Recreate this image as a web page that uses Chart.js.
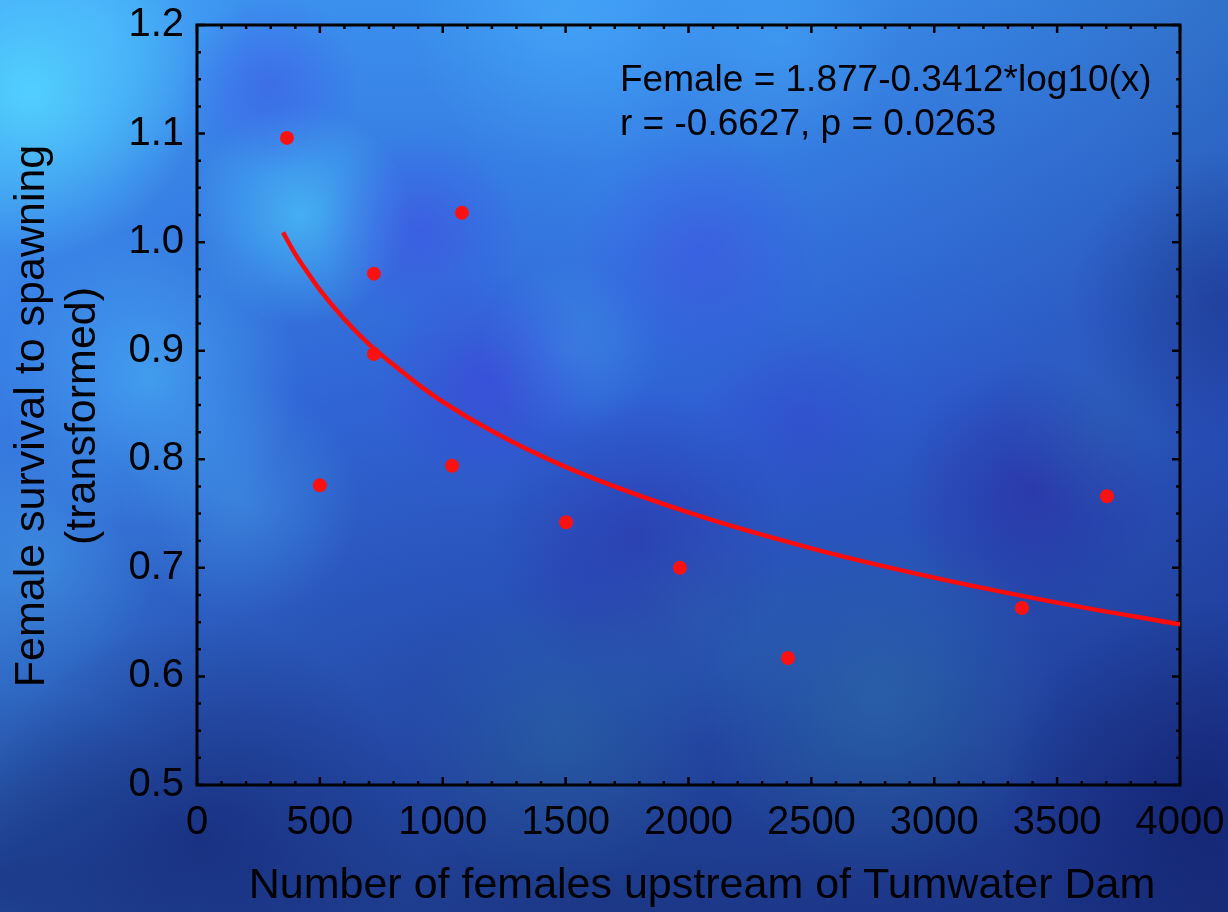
<!DOCTYPE html>
<html>
<head>
<meta charset="utf-8">
<script src="https://cdn.jsdelivr.net/npm/chart.js@4.4.1/dist/chart.umd.min.js"></script>
<style>
  html, body { margin: 0; padding: 0; background: #1c3580; }
  #wrap { width: 1228px; height: 912px; }
</style>
</head>
<body>
<div id="wrap"><canvas id="chart" width="1228" height="912"></canvas></div>
<script>
// observed points
const femalesUpstream = [366, 500, 720, 720, 1038, 1078, 1502, 1965, 2405, 3357, 3703];
const survivalTransformed = [1.096, 0.776, 0.971, 0.897, 0.794, 1.027, 0.742, 0.700, 0.617, 0.663, 0.766];

// fitted curve
const fitX = [350, 400, 450, 500, 600, 700, 800, 900, 1000, 1200, 1500, 2000, 2500, 3000, 3500, 4000];
const fitY = [1.009, 0.989, 0.972, 0.956, 0.929, 0.906, 0.887, 0.869, 0.853, 0.826, 0.793, 0.751, 0.718, 0.691, 0.668, 0.648];

const xTicks = [0, 500, 1000, 1500, 2000, 2500, 3000, 3500, 4000];
const yTicks = [0.5, 0.6, 0.7, 0.8, 0.9, 1.0, 1.1, 1.2];

const annotationLines = ['Female = 1.877-0.3412*log10(x)', 'r = -0.6627, p = 0.0263'];
const xTitle = 'Number of females upstream of Tumwater Dam';
const yTitle = ['Female survival to spawning', '(transformed)'];

const FONT = '"Liberation Sans", Arial, sans-serif';

// soft colour patches for the mottled backdrop: x, y, radius, rgb, alpha
const patches = [
    [30, 90, 170, '85,215,255', 0.9],
    [100, 30, 150, '80,200,255', 0.45],
    [560, 20, 150, '80,190,255', 0.35],
    [780, 40, 120, '80,190,255', 0.25],
    [300, 215, 110, '80,210,255', 0.6],
    [150, 380, 150, '80,200,255', 0.5],
    [240, 500, 120, '80,190,250', 0.35],
    [40, 560, 120, '80,190,250', 0.3],
    [570, 350, 90, '80,190,250', 0.25],
    [270, 85, 90, '70,60,230', 0.35],
    [420, 230, 100, '70,60,230', 0.4],
    [490, 380, 110, '70,50,220', 0.4],
    [700, 250, 120, '70,60,230', 0.35],
    [640, 540, 150, '45,30,160', 0.4],
    [800, 420, 100, '60,50,200', 0.25],
    [1030, 490, 130, '45,30,150', 0.45],
    [880, 700, 180, '50,140,170', 0.35],
    [560, 740, 150, '50,130,170', 0.3],
    [700, 620, 120, '50,130,170', 0.2],
    [1100, 420, 100, '50,130,170', 0.2],
    [200, 840, 220, '15,25,100', 0.55],
    [1200, 800, 200, '15,25,100', 0.55],
    [1220, 300, 150, '15,25,100', 0.35],
    [0, 880, 200, '15,25,100', 0.5]
];


function blob(ctx, x, y, r, rgb, a) {
    const g = ctx.createRadialGradient(x, y, 0, x, y, r);
    g.addColorStop(0, `rgba(${rgb},${a})`);
    g.addColorStop(1, `rgba(${rgb},0)`);
    ctx.fillStyle = g;
    ctx.fillRect(x - r, y - r, 2 * r, 2 * r);
}


// drop the label overhang chart.js reserves, the layout padding places the plot instead
function pinScale(scale) {
    scale.paddingTop = 0;
    scale.paddingBottom = 0;
    scale.paddingLeft = 0;
    scale.paddingRight = 0;
}


const backdrop = {
    id: 'backdrop',
    beforeDraw(chart) {
        const { ctx, width, height } = chart;
        ctx.save();
        const base = ctx.createLinearGradient(0, 0, 0, height);
        base.addColorStop(0, '#3c96f2');
        base.addColorStop(0.45, '#2f62d4');
        base.addColorStop(1, '#1c3886');
        ctx.fillStyle = base;
        ctx.fillRect(0, 0, width, height);

        const side = ctx.createLinearGradient(0, 0, width, 0);
        side.addColorStop(0, 'rgba(70,170,255,0.35)');
        side.addColorStop(0.5, 'rgba(40,60,180,0)');
        side.addColorStop(1, 'rgba(20,30,110,0.3)');
        ctx.fillStyle = side;
        ctx.fillRect(0, 0, width, height);

        patches.forEach((p) => blob(ctx, ...p));
        ctx.restore();
    }
};


const frame = {
    id: 'frame',
    beforeDatasetsDraw(chart) {
        const { ctx, chartArea: a, scales: { x, y } } = chart;
        ctx.save();
        ctx.strokeStyle = '#000';
        ctx.lineWidth = 2.5;
        ctx.beginPath();
        for (let v = 0; v <= 4000; v += 100) {
            const px = x.getPixelForValue(v);
            const len = v % 500 === 0 ? 8 : 4;
            ctx.moveTo(px, a.bottom); ctx.lineTo(px, a.bottom - len);
            ctx.moveTo(px, a.top); ctx.lineTo(px, a.top + len);
        }
        for (let i = 0; i <= 28; i++) {
            const py = y.getPixelForValue(0.5 + i * 0.025);
            const len = i % 4 === 0 ? 8 : 4;
            ctx.moveTo(a.left, py); ctx.lineTo(a.left + len, py);
            ctx.moveTo(a.right, py); ctx.lineTo(a.right - len, py);
        }
        ctx.stroke();
        ctx.lineWidth = 3;
        ctx.strokeRect(a.left, a.top, a.right - a.left, a.bottom - a.top);
        ctx.restore();
    },
    afterDraw(chart) {
        const { ctx } = chart;
        ctx.save();
        ctx.fillStyle = '#000';
        ctx.textAlign = 'left';
        ctx.textBaseline = 'alphabetic';
        ctx.font = `37px ${FONT}`;
        ctx.fillText(annotationLines[0], 620, 91);
        ctx.fillText(annotationLines[1], 620, 135);

        ctx.font = `43px ${FONT}`;
        ctx.textAlign = 'center';
        ctx.textBaseline = 'middle';
        ctx.fillText(xTitle, 702, 886);

        ctx.translate(32, 416);
        ctx.rotate(-Math.PI / 2);
        ctx.fillText(yTitle[0], 0, 0);
        ctx.fillText(yTitle[1], 0, 51);
        ctx.restore();
    }
};


new Chart(document.getElementById('chart'), {
    type: 'scatter',
    data: {
        datasets: [
            {
                label: 'Observed',
                data: femalesUpstream.map((v, i) => ({ x: v, y: survivalTransformed[i] })),
                backgroundColor: '#ff1010',
                borderWidth: 0,
                pointRadius: 7,
                order: 1
            },
            {
                type: 'line',
                label: 'Fit',
                data: fitX.map((v, i) => ({ x: v, y: fitY[i] })),
                borderColor: '#ff0a0a',
                borderWidth: 4.5,
                pointRadius: 0,
                cubicInterpolationMode: 'monotone',
                fill: false,
                order: 2
            }
        ]
    },
    options: {
        responsive: false,
        animation: false,
        events: [],
        layout: { padding: { top: 25, right: 48, left: 0, bottom: 0 } },
        plugins: { legend: { display: false }, tooltip: { enabled: false } },
        scales: {
            x: {
                type: 'linear',
                min: 0,
                max: 4000,
                afterBuildTicks: (scale) => { scale.ticks = xTicks.map((v) => ({ value: v })) },
                afterFit: (scale) => { scale.height = 127; pinScale(scale) },
                grid: { display: false, drawTicks: false },
                border: { display: false },
                ticks: {
                    color: '#000',
                    padding: 14,
                    maxRotation: 0,
                    autoSkip: false,
                    font: { family: FONT, size: 40 },
                    callback: (v) => String(v)
                }
            },
            y: {
                type: 'linear',
                min: 0.5,
                max: 1.2,
                afterBuildTicks: (scale) => { scale.ticks = yTicks.map((v) => ({ value: v })) },
                afterFit: (scale) => { scale.width = 197; pinScale(scale) },
                grid: { display: false, drawTicks: false },
                border: { display: false },
                ticks: {
                    color: '#000',
                    padding: 13,
                    autoSkip: false,
                    font: { family: FONT, size: 40 },
                    callback: (v) => v.toFixed(1)
                }
            }
        }
    },
    plugins: [backdrop, frame]
});
</script>
</body>
</html>
